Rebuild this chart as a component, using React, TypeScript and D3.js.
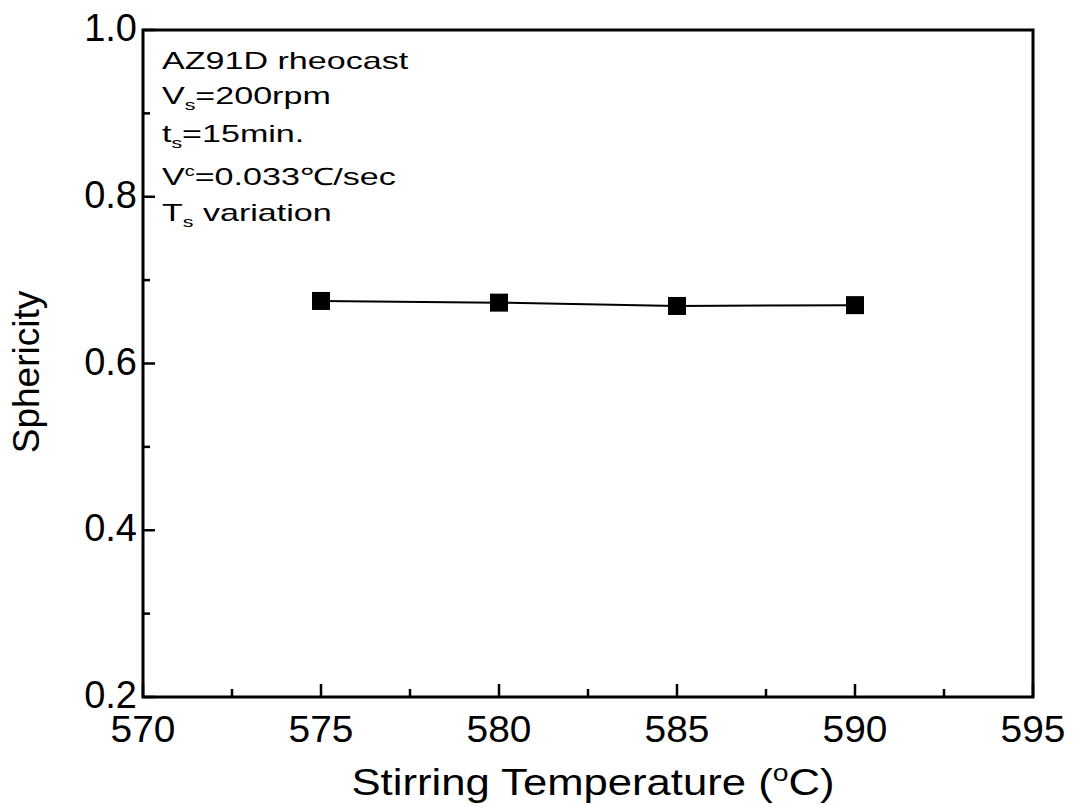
import React from "react";
import * as d3 from "d3";

const temps = [575, 580, 585, 590];
const sphericity = [0.675, 0.673, 0.669, 0.67];
const xTicks = [570, 575, 580, 585, 590, 595];
const yTicks = [0.2, 0.4, 0.6, 0.8, 1.0];

export default function App() {
  const W = 1077, H = 807;
  const L = 143, R = 1033, T = 30, B = 697;
  const x = d3.scaleLinear().domain([570, 595]).range([L, R]);
  const y = d3.scaleLinear().domain([0.2, 1.0]).range([B, T]);
  const font = "'Liberation Sans', Arial, Helvetica, sans-serif";
  const line = d3.line<number>().x((_, i) => x(temps[i])).y((d) => y(d));
  const xMinor = d3.range(572.5, 595, 5);
  const yMinor = d3.range(0.3, 1.0, 0.2);
  const ms = 18;
  const ann = (yy: number) => `translate(162,${yy}) scale(1.42,1)`;
  return (
    <svg width={W} height={H} style={{ position: "absolute", left: 0, top: 0, background: "#fff" }} fontFamily={font}>
      <rect x={0} y={0} width={W} height={H} fill="#fff" />
      <rect x={L} y={T} width={R - L} height={B - T} fill="none" stroke="#000" strokeWidth={3} />
      {xTicks.map((t) => (
        <g key={"x" + t}>
          <line x1={x(t)} x2={x(t)} y1={B} y2={B - 13} stroke="#000" strokeWidth={2.5} />
          <text transform={`translate(${x(t)},742) scale(1.05,1)`} fontSize={37} textAnchor="middle">{t}</text>
        </g>
      ))}
      {xMinor.map((t) => (
        <line key={"xm" + t} x1={x(t)} x2={x(t)} y1={B} y2={B - 8} stroke="#000" strokeWidth={2.5} />
      ))}
      {yTicks.map((t) => (
        <g key={"y" + t}>
          <line x1={L} x2={L + 12} y1={y(t)} y2={y(t)} stroke="#000" strokeWidth={2.5} />
          <text x={137} y={y(t) + 11} fontSize={38} textAnchor="end">{t.toFixed(1)}</text>
        </g>
      ))}
      {yMinor.map((t) => (
        <line key={"ym" + t} x1={L} x2={L + 7} y1={y(t)} y2={y(t)} stroke="#000" strokeWidth={2.5} />
      ))}
      <path d={line(sphericity) || ""} fill="none" stroke="#000" strokeWidth={2} />
      {sphericity.map((v, i) => (
        <rect key={"m" + i} x={x(temps[i]) - ms / 2} y={y(v) - ms / 2} width={ms} height={ms} fill="#000" />
      ))}
      <text transform="translate(593,795) scale(1.18,1)" fontSize={37} textAnchor="middle">
        Stirring Temperature (<tspan dy={-14} fontSize={24}>o</tspan><tspan dy={14}>C)</tspan>
      </text>
      <text transform={`translate(39,372) rotate(-90)`} fontSize={37} textAnchor="middle">Sphericity</text>
      <g fontSize={24}>
        <text transform={ann(69)}>AZ91D rheocast</text>
        <text transform={ann(104)}>V<tspan dy={6} fontSize={15}>s</tspan><tspan dy={-6}>=200rpm</tspan></text>
        <text transform={ann(142)}>t<tspan dy={6} fontSize={15}>s</tspan><tspan dy={-6}>=15min.</tspan></text>
        <text transform={ann(185)}>V<tspan dy={-9} fontSize={14}>c</tspan><tspan dy={9}>=0.033℃/sec</tspan></text>
        <text transform={ann(221)}>T<tspan dy={6} fontSize={15}>s</tspan><tspan dy={-6}> variation</tspan></text>
      </g>
    </svg>
  );
}
